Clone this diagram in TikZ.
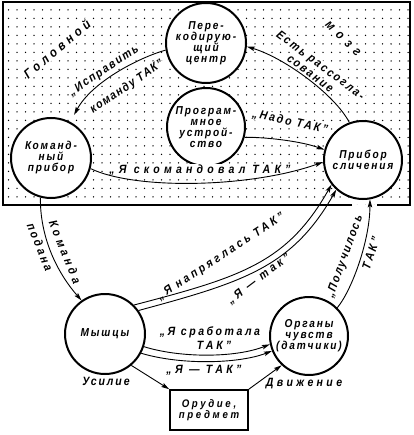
\documentclass[tikz,border=0pt]{standalone}
\usepackage{fontspec}
\newfontfamily\gostc{Liberation Sans}[FakeStretch=0.88,LetterSpace=16]
\newfontfamily\gostl{Liberation Sans}[FakeStretch=0.88]
\newfontfamily\gostw{Liberation Sans}[FakeStretch=0.88]
\usetikzlibrary{arrows.meta,patterns.meta}
\begin{document}
\begin{tikzpicture}[x=1pt,y=-1pt,
  circ/.style={circle,draw,line width=2pt,fill=white,inner sep=0pt,minimum size=#1,align=center,
    font=\gostc\bfseries\itshape\fontsize{11.5}{11}\selectfont},
  lbl/.style={inner sep=0.6pt,font=\gostl\addfontfeatures{LetterSpace=#1}\bfseries\itshape\fontsize{12}{13}\selectfont},
  lbl/.default=20,
  lblw/.style={lbl=#1,fill=white},
  lblw/.default=20,
  big/.style={inner sep=0.6pt,fill=white,font=\gostw\addfontfeatures{LetterSpace=#1}\bfseries\itshape\fontsize{13}{14}\selectfont},
  arr/.style={line width=0.9pt,-{Stealth[length=8pt,width=4.5pt,inset=1.5pt]}}
]
\useasboundingbox (0,0) rectangle (413,435);
% head area
\path[pattern={Dots[distance=8.5pt,radius=0.75pt]}] (3,2) rectangle (410,205);
\draw[line width=1.5pt] (352,205) -- (3,205) -- (3,2) -- (410,2) -- (410,205) -- (377,205);
% nodes
\node[circ=80] (pc) at (206,43) {Пере-\\кодирую-\\щий\\центр};
\node[circ=78] (pu) at (206,127) {Програм-\\мное\\устрой-\\ство};
\node[circ=80] (kp) at (51,158) {Команд-\\ный\\прибор};
\node[circ=78] (ps) at (363,160) {Прибор\\сличения};
\node[circ=80] (m) at (105,334) {Мышцы};
\node[circ=78] (o) at (309,336) {Органы\\чувств\\(датчики)};
\node[draw,line width=1.6pt,minimum width=78pt,minimum height=40pt,inner sep=0pt,align=center,
  font=\gostl\addfontfeatures{LetterSpace=24}\bfseries\itshape\fontsize{11}{11.5}\selectfont] (box) at (209,410) {Орудие,\\предмет};
% labels
\node[big=30,rotate=40] (lh) at (57,49) {Головной};
\node[big=45,rotate=-45] (lm) at (343,39) {мозг};
\node[lblw=14,rotate=34] (l1) at (104,71) {„Исправить};
\node[lblw=11,rotate=34] (l2) at (127,87) {команду ТАК”};
\node[lblw=16,rotate=-37] (l3) at (320,66) {Есть рассогла-};
\node[lblw=16,rotate=-37] (l4) at (310,74) {сование};
\node[lblw=17,rotate=-12] (l5) at (290,122) {„Надо ТАК”};
\node[lblw=35] (l6) at (200,170) {„Я скомандовал ТАК”};
\node[lbl=30,rotate=-68] (l7) at (65,252) {Команда};
\node[lbl=22,rotate=-68] (l8) at (40,247) {подана};
\node[lbl=24,rotate=33] (l9) at (221,257) {„Я напряглась ТАК”};
\node[lbl=28,rotate=37] (l10) at (259,279) {„Я — так”};
\node[lbl=21] (l11) at (210,332) {„Я сработала};
\node[lbl=24] (l12) at (214,345) {ТАК”};
\node[lbl=28] (l13) at (204,370) {„Я — ТАК”};
\node[lbl=16] (l14) at (106,381) {Усилие};
\node[lbl=28] (l15) at (304,384) {Движение};
\node[lbl=15,rotate=70] (l16) at (345,257) {„Получилось};
\node[lbl=24,rotate=72] (l17) at (371,253) {ТАК”};
% connectors
\draw[arr,shorten >=8pt] (pc.190) .. controls (138,58) and (92,82) .. (kp.62);
\draw[arr] (ps.110) .. controls (335,95) and (285,58) .. (pc.-5);
\draw[arr] (pu.-15) .. controls (265,137) and (300,141) .. (ps.165);
\draw[arr] (kp.-15) .. controls (135,190) and (250,188) .. (ps.183);
\draw[arr] (kp.-105) .. controls (40,235) and (55,270) .. (m.125);
\draw[arr] (m.45) .. controls (241,277) and (287,263) .. (ps.218);
\draw[arr] (m.35) .. controls (244,282) and (292,267) .. (ps.228);
\draw[arr] (m.-18) .. controls (180,358) and (235,358) .. (o.192);
\draw[arr] (m.-28) .. controls (180,365) and (238,364) .. (o.202);
\draw[arr] (m.-50) -- (box.north west);
\draw[arr] (box.north east) -- (o.227);
\draw[arr] (o.45) .. controls (352,290) and (370,240) .. (ps.-80);
\end{tikzpicture}
\end{document}
